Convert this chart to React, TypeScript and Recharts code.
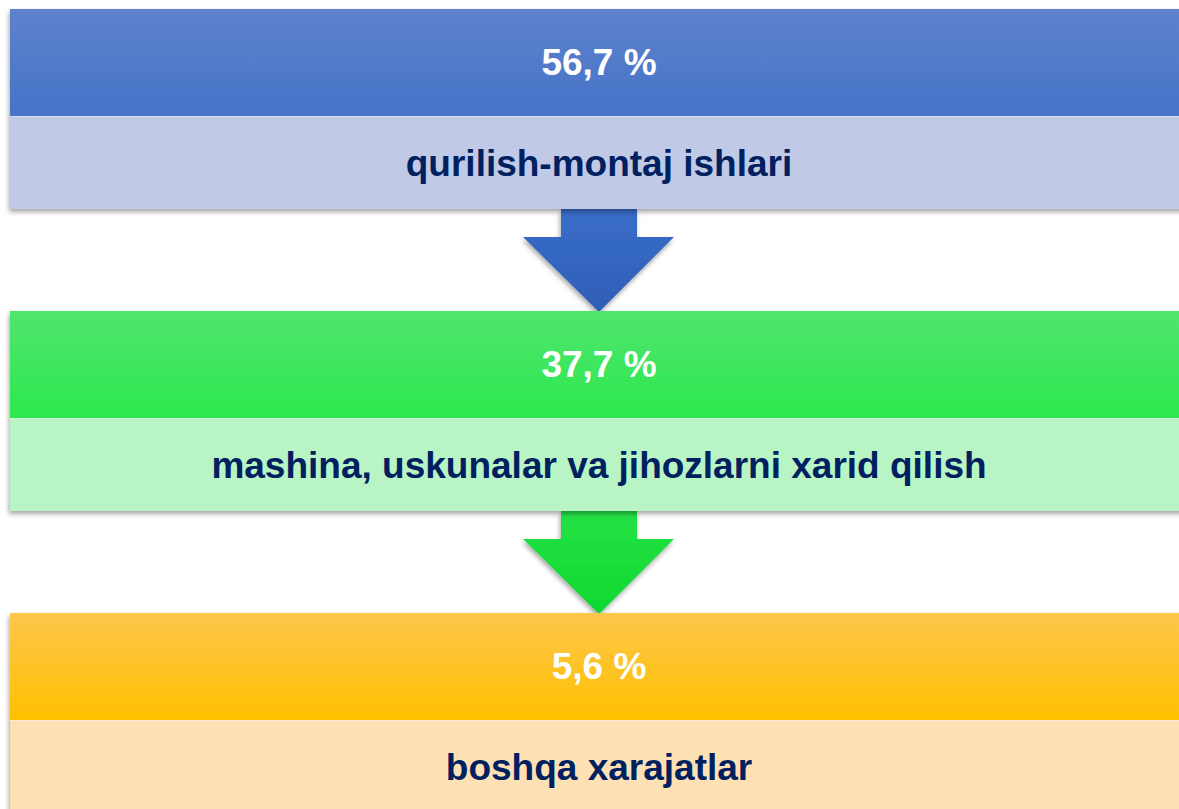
import React from 'react';
import { BarChart, Bar, XAxis, YAxis } from 'recharts';

// shares of capital investment by type of work
const categories = [
    'qurilish-montaj ishlari',
    'mashina, uskunalar va jihozlarni xarid qilish',
    'boshqa xarajatlar',
];
const shares = [56.7, 37.7, 5.6];
// every block spans the full scale
const frameValues = [100, 100, 100];

const palette = [
    { top: '#5E82CC', bottom: '#4673C8', light: '#C0CAE6', arrowTop: '#3A6DCA', arrowBottom: '#2E5EB6' },
    { top: '#50E56E', bottom: '#2DE84E', light: '#B8F4C4', arrowTop: '#26E245', arrowBottom: '#0ED82F' },
    { top: '#FEC64C', bottom: '#FFC000', light: '#FDE1B5', arrowTop: '#FFC000', arrowBottom: '#FFB000' },
];

const data = categories.map((name, i) => ({
    name,
    share: shares[i],
    frame: frameValues[i],
}));

const FONT = '"Liberation Sans", Arial, sans-serif';
const formatShare = (v: number) => v.toFixed(1).replace('.', ',') + ' %';

const Block = (props: any) => {
    const { x, y, width, height, index, payload } = props;
    const c = palette[index];
    const topH = Math.round(height * 0.535);
    const cx = 599;
    const bottomY = y + height;
    const gap = 102;
    const showArrow = index < data.length - 1;
    return (
        <g>
            {showArrow && (
                <path
                    d={`M${cx - 38},${bottomY} L${cx + 38},${bottomY} L${cx + 38},${bottomY + 28} L${cx + 75},${bottomY + 28} L${cx},${bottomY + gap + 1} L${cx - 76},${bottomY + 28} L${cx - 38},${bottomY + 28} Z`}
                    fill={`url(#arrow${index})`}
                    filter="url(#shadow)"
                />
            )}
            <g filter="url(#shadow)">
                <rect x={x} y={y} width={width} height={topH} fill={`url(#head${index})`} />
                <rect x={x} y={y + topH} width={width} height={height - topH} fill={c.light} />
                <line x1={x} x2={x + width} y1={y + topH + 0.5} y2={y + topH + 0.5} stroke="#ffffff" strokeOpacity={0.35} />
            </g>
            <text x={cx} y={y + 66} textAnchor="middle" fill="#ffffff" fontFamily={FONT} fontWeight="bold" fontSize={37}>
                {formatShare(payload.share)}
            </text>
            <text x={cx} y={y + 167} textAnchor="middle" fill="#002060" fontFamily={FONT} fontWeight="bold" fontSize={37}>
                {payload.name}
            </text>
        </g>
    );
};

const App: React.FC = () => {
    return (
        <div style={{ position: 'fixed', top: 0, left: 0, width: 1179, height: 809, overflow: 'hidden', background: '#ffffff' }}>
            <div style={{ position: 'absolute', top: -42, left: 0 }}>
                <BarChart
                    width={1198}
                    height={906}
                    data={data}
                    layout="vertical"
                    margin={{ top: 0, right: 10, left: 10, bottom: 0 }}
                >
                    <defs>
                        {palette.map((c, i) => (
                            <linearGradient key={`h${i}`} id={`head${i}`} x1="0" y1="0" x2="0" y2="1">
                                <stop offset="0%" stopColor={c.top} />
                                <stop offset="100%" stopColor={c.bottom} />
                            </linearGradient>
                        ))}
                        {palette.map((c, i) => (
                            <linearGradient key={`a${i}`} id={`arrow${i}`} x1="0" y1="0" x2="0" y2="1">
                                <stop offset="0%" stopColor={c.arrowTop} />
                                <stop offset="100%" stopColor={c.arrowBottom} />
                            </linearGradient>
                        ))}
                        <filter id="shadow" x="-5%" y="-20%" width="110%" height="140%">
                            <feDropShadow dx="-1" dy="3" stdDeviation="2.5" floodColor="#000000" floodOpacity="0.35" />
                        </filter>
                    </defs>
                    <XAxis type="number" domain={[0, 100]} hide />
                    <YAxis type="category" dataKey="name" hide />
                    <Bar dataKey="frame" barSize={200} shape={(p: any) => <Block {...p} />} isAnimationActive={false} />
                </BarChart>
            </div>
        </div>
    );
};

export default App;
